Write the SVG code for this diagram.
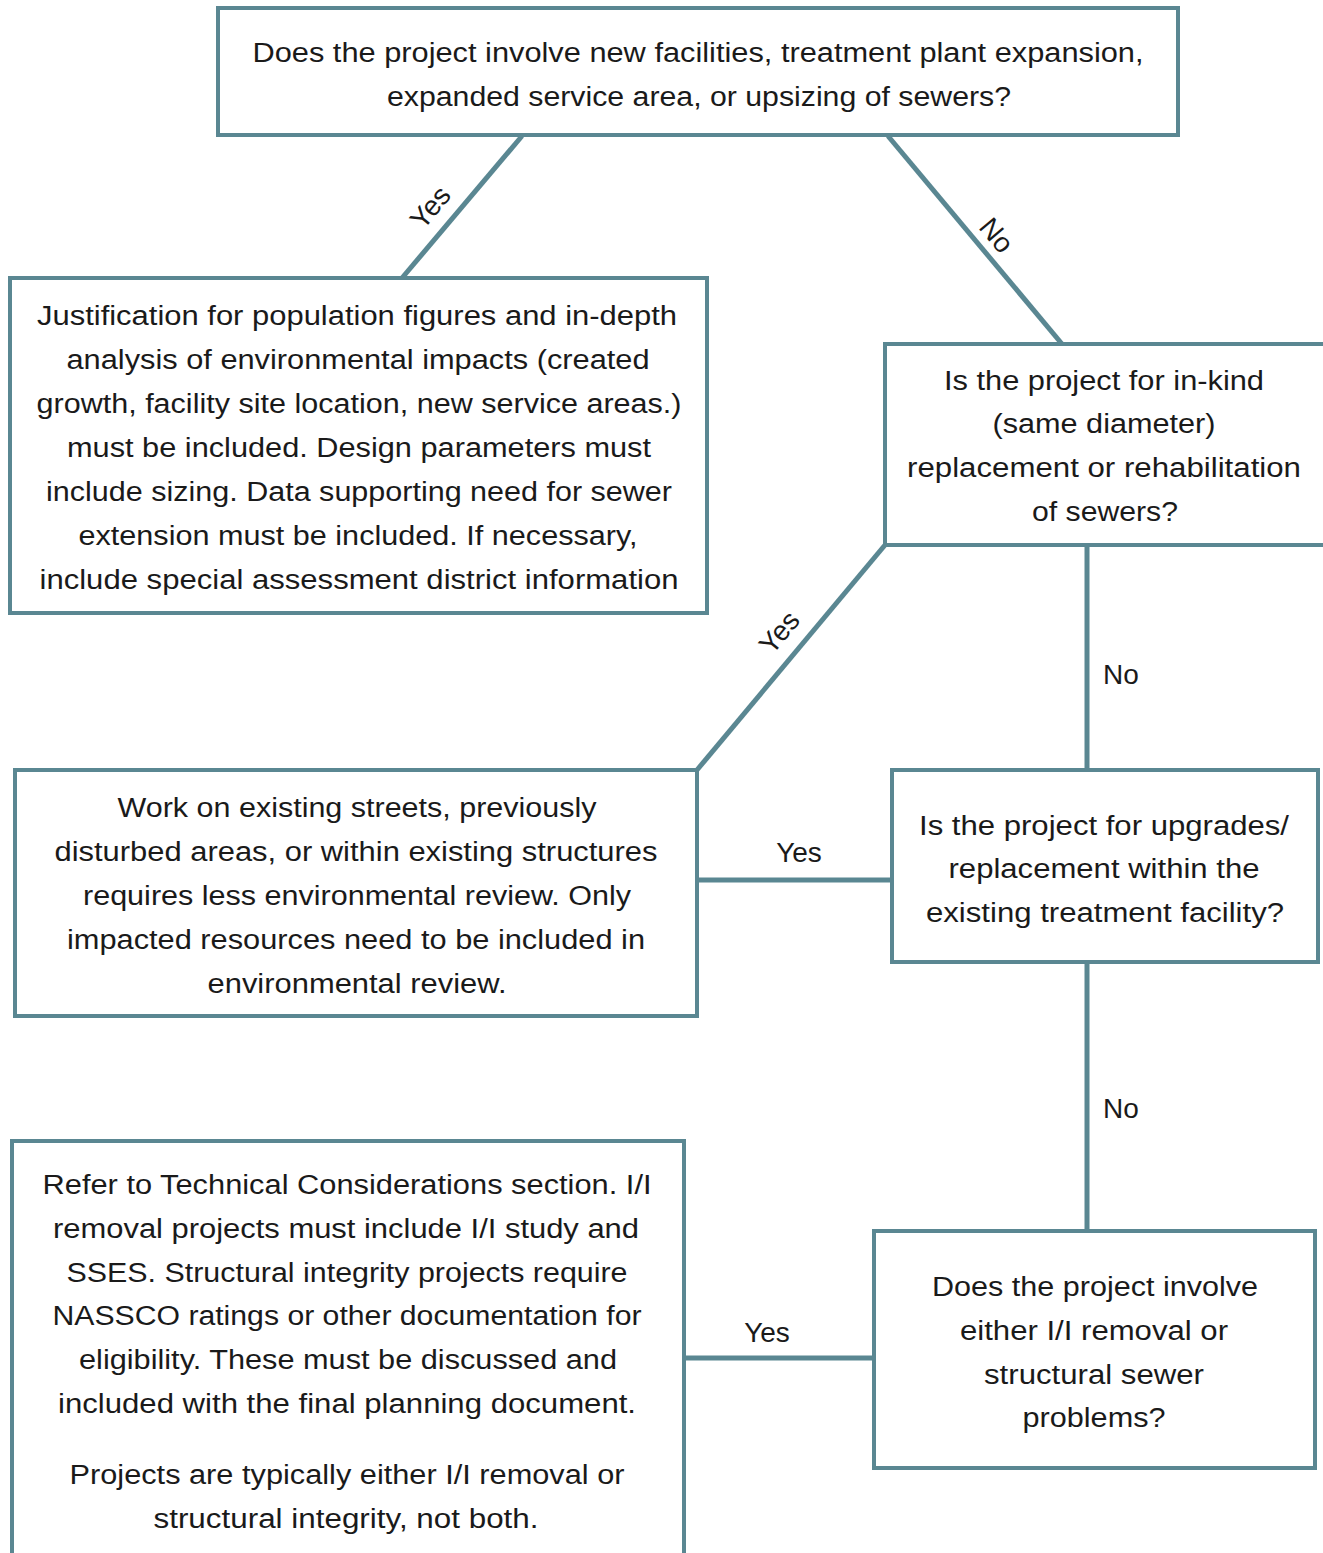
<svg xmlns="http://www.w3.org/2000/svg" width="1323" height="1553" viewBox="0 0 1323 1553">
<style>
.box{fill:#fff;stroke:#5a8792;stroke-width:4}
.ln{stroke:#5a8792;stroke-width:5;fill:none}
text{font-family:"Liberation Sans",Arial,sans-serif;font-size:27px;fill:#1a1a1a;text-anchor:middle}
.lb{font-size:28px}
</style>
<rect width="1323" height="1553" fill="#fff"/>
<g id="connectors">
<line class="ln" x1="522" y1="136" x2="402" y2="278"/>
<line class="ln" x1="888" y1="136" x2="1062" y2="344"/>
<line class="ln" x1="885" y1="545" x2="697" y2="770"/>
<line class="ln" x1="1087" y1="545" x2="1087" y2="770"/>
<line class="ln" x1="697" y1="880" x2="892" y2="880"/>
<line class="ln" x1="1087" y1="962" x2="1087" y2="1231"/>
<line class="ln" x1="684" y1="1358" x2="874" y2="1358"/>
<text class="lb" transform="translate(430,207) rotate(-50)" y="10">Yes</text>
<text class="lb" transform="translate(997,235) rotate(50)" y="10">No</text>
<text class="lb" transform="translate(779,632) rotate(-50)" y="10">Yes</text>
<text class="lb" x="1121" y="684">No</text>
<text class="lb" x="799" y="862">Yes</text>
<text class="lb" x="1121" y="1118">No</text>
<text class="lb" x="767" y="1342">Yes</text>
</g>
<g id="n1">
<rect class="box" x="218" y="8" width="960" height="127"/>
<text x="698" y="62" textLength="891" lengthAdjust="spacingAndGlyphs">Does the project involve new facilities, treatment plant expansion,</text>
<text x="699" y="106" textLength="624" lengthAdjust="spacingAndGlyphs">expanded service area, or upsizing of sewers?</text>
</g>
<g id="n2">
<rect class="box" x="10" y="278" width="697" height="335"/>
<text x="357" y="325" textLength="640" lengthAdjust="spacingAndGlyphs">Justification for population figures and in-depth</text>
<text x="358" y="369" textLength="583" lengthAdjust="spacingAndGlyphs">analysis of environmental impacts (created</text>
<text x="359" y="413" textLength="645" lengthAdjust="spacingAndGlyphs">growth, facility site location, new service areas.)</text>
<text x="359" y="457" textLength="584" lengthAdjust="spacingAndGlyphs">must be included. Design parameters must</text>
<text x="359" y="501" textLength="626" lengthAdjust="spacingAndGlyphs">include sizing. Data supporting need for sewer</text>
<text x="358" y="545" textLength="559" lengthAdjust="spacingAndGlyphs">extension must be included. If necessary,</text>
<text x="359" y="589" textLength="639" lengthAdjust="spacingAndGlyphs">include special assessment district information</text>
</g>
<g id="n3">
<rect class="box" x="885" y="344" width="440" height="201"/>
<text x="1104" y="390" textLength="320" lengthAdjust="spacingAndGlyphs">Is the project for in-kind</text>
<text x="1104" y="433" textLength="223" lengthAdjust="spacingAndGlyphs">(same diameter)</text>
<text x="1104" y="477" textLength="394" lengthAdjust="spacingAndGlyphs">replacement or rehabilitation</text>
<text x="1105" y="521" textLength="146" lengthAdjust="spacingAndGlyphs">of sewers?</text>
</g>
<g id="n4">
<rect class="box" x="15" y="770" width="682" height="246"/>
<text x="357" y="817" textLength="479" lengthAdjust="spacingAndGlyphs">Work on existing streets, previously</text>
<text x="356" y="861" textLength="603" lengthAdjust="spacingAndGlyphs">disturbed areas, or within existing structures</text>
<text x="357" y="905" textLength="548" lengthAdjust="spacingAndGlyphs">requires less environmental review. Only</text>
<text x="356" y="949" textLength="578" lengthAdjust="spacingAndGlyphs">impacted resources need to be included in</text>
<text x="357" y="993" textLength="299" lengthAdjust="spacingAndGlyphs">environmental review.</text>
</g>
<g id="n5">
<rect class="box" x="892" y="770" width="426" height="192"/>
<text x="1104" y="835" textLength="370" lengthAdjust="spacingAndGlyphs">Is the project for upgrades/</text>
<text x="1104" y="878" textLength="311" lengthAdjust="spacingAndGlyphs">replacement within the</text>
<text x="1105" y="922" textLength="358" lengthAdjust="spacingAndGlyphs">existing treatment facility?</text>
</g>
<g id="n6">
<rect class="box" x="874" y="1231" width="441" height="237"/>
<text x="1095" y="1296" textLength="326" lengthAdjust="spacingAndGlyphs">Does the project involve</text>
<text x="1094" y="1340" textLength="268" lengthAdjust="spacingAndGlyphs">either I/I removal or</text>
<text x="1094" y="1384" textLength="220" lengthAdjust="spacingAndGlyphs">structural sewer</text>
<text x="1094" y="1427" textLength="143" lengthAdjust="spacingAndGlyphs">problems?</text>
</g>
<g id="n7">
<path class="box" d="M12,1560 V1141 H684 V1560"/>
<text x="347" y="1194" textLength="609" lengthAdjust="spacingAndGlyphs">Refer to Technical Considerations section. I/I</text>
<text x="346" y="1238" textLength="586" lengthAdjust="spacingAndGlyphs">removal projects must include I/I study and</text>
<text x="347" y="1282" textLength="561" lengthAdjust="spacingAndGlyphs">SSES. Structural integrity projects require</text>
<text x="347" y="1325" textLength="589" lengthAdjust="spacingAndGlyphs">NASSCO ratings or other documentation for</text>
<text x="348" y="1369" textLength="538" lengthAdjust="spacingAndGlyphs">eligibility. These must be discussed and</text>
<text x="347" y="1413" textLength="578" lengthAdjust="spacingAndGlyphs">included with the final planning document.</text>
<text x="347" y="1484" textLength="555" lengthAdjust="spacingAndGlyphs">Projects are typically either I/I removal or</text>
<text x="346" y="1528" textLength="385" lengthAdjust="spacingAndGlyphs">structural integrity, not both.</text>
</g>
</svg>
